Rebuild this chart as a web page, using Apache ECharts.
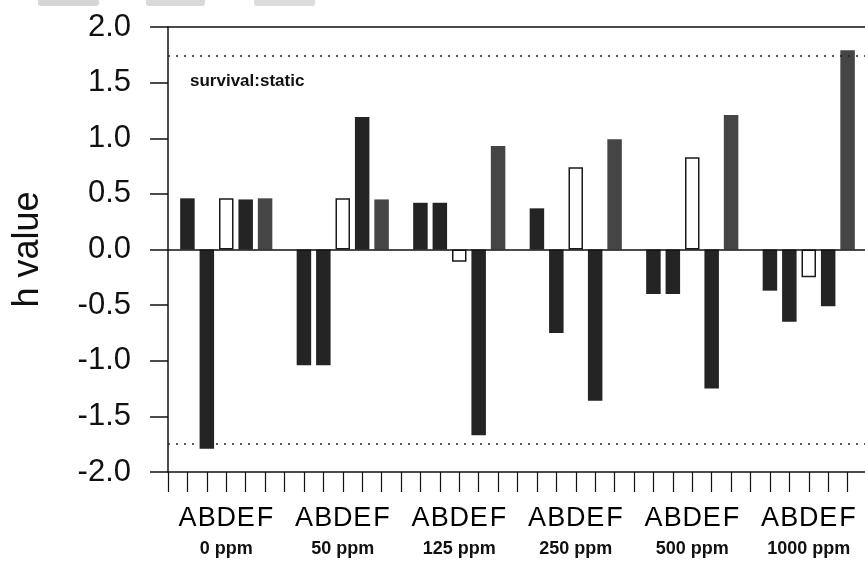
<!DOCTYPE html>
<html>
<head>
<meta charset="utf-8">
<script src="https://cdn.jsdelivr.net/npm/echarts@6/dist/echarts.min.js"></script>
<style>
html,body{margin:0;padding:0;background:#fff;}
#chart{width:865px;height:582px;}
</style>
</head>
<body>
<div id="chart"></div>
<script>
// ---- data ----
const groups = ['0 ppm', '50 ppm', '125 ppm', '250 ppm', '500 ppm', '1000 ppm'];
const letters = ['A', 'B', 'D', 'E', 'F'];
const hA = [0.46, -1.04, 0.42, 0.37, -0.40, -0.37];
const hB = [-1.79, -1.04, 0.42, -0.75, -0.40, -0.65];
const hD = [0.46, 0.46, -0.11, 0.74, 0.83, -0.25];
const hE = [0.45, 1.19, -1.67, -1.36, -1.25, -0.51];
const hF = [0.46, 0.45, 0.93, 0.99, 1.21, 1.79];
const critUpper = 1.74;
const critLower = -1.75;
const yTicks = [-2.0, 2.0, 0.5]; // min, max, interval
const panelLabel = 'survival:static';

// ---- build category slots: one empty slot between groups ----
const slotsPerGroup = letters.length + 1;
const categories = [''];
groups.forEach(() => { letters.forEach(l => categories.push(l)); categories.push(''); });
function place(values, letterIdx) {
  const arr = new Array(categories.length).fill(null);
  values.forEach((v, g) => { arr[1 + g * slotsPerGroup + letterIdx] = v; });
  return arr;
}

const FONT = 'Liberation Sans, Arial, sans-serif';
const chart = echarts.init(document.getElementById('chart'), null, {renderer: 'canvas'});

const dark = '#242424';
const barBase = {type: 'bar', barWidth: 14.5, barGap: '-100%', xAxisIndex: 0, yAxisIndex: 0};

const option = {
  animation: false,
  backgroundColor: '#ffffff',
  grid: {left: 168, top: 27, width: 699, height: 445, containLabel: false, outerBoundsMode: 'none'},
  xAxis: [
    {
      type: 'category', data: categories, boundaryGap: false, position: 'bottom',
      axisLine: {show: true, onZero: false, lineStyle: {color: '#111', width: 1.5}},
      axisTick: {show: true, inside: false, length: 20, interval: 0, lineStyle: {color: '#111', width: 1.2}},
      axisLabel: {show: true, interval: 0, margin: 33, fontFamily: FONT, fontSize: 27, color: '#000'},
      splitLine: {show: false}
    },
    {
      type: 'category', data: groups, boundaryGap: true, position: 'bottom', offset: 0,
      axisLine: {show: false, onZero: false}, axisTick: {show: false},
      axisLabel: {show: true, interval: 0, margin: 68, fontFamily: FONT, fontSize: 18, fontWeight: 'bold', color: '#111'},
      splitLine: {show: false}
    },
    {
      type: 'category', data: categories, position: 'top',
      axisLine: {show: true, onZero: false, lineStyle: {color: '#111', width: 1.5}},
      axisTick: {show: false}, axisLabel: {show: false}, splitLine: {show: false}
    }
  ],
  yAxis: {
    type: 'value', min: yTicks[0], max: yTicks[1], interval: yTicks[2],
    name: 'h value', nameLocation: 'middle', nameGap: 122, nameRotate: 90,
    nameTextStyle: {fontFamily: FONT, fontSize: 36, color: '#111'},
    axisLine: {show: true, lineStyle: {color: '#111', width: 1.5}},
    axisTick: {show: true, inside: false, length: 18, lineStyle: {color: '#111', width: 1.5}},
    axisLabel: {margin: 37, fontFamily: FONT, fontSize: 31, color: '#111', formatter: v => v.toFixed(1)},
    splitLine: {show: false}
  },
  series: [
    Object.assign({}, barBase, {
      name: 'A', data: place(hA, 0), itemStyle: {color: dark},
      markLine: {
        silent: true, symbol: 'none', label: {show: false},
        data: [
          {yAxis: critUpper, lineStyle: {type: [2, 6], color: '#222', width: 1.5}},
          {yAxis: critLower, lineStyle: {type: [2, 6], color: '#222', width: 1.5}},
          {yAxis: 0, lineStyle: {type: 'solid', color: '#111', width: 1.5}}
        ]
      }
    }),
    Object.assign({}, barBase, {name: 'B', data: place(hB, 1), itemStyle: {color: dark}}),
    Object.assign({}, barBase, {name: 'D', data: place(hD, 2), itemStyle: {color: '#ffffff', borderColor: '#1a1a1a', borderWidth: 1.5}}),
    Object.assign({}, barBase, {name: 'E', data: place(hE, 3), itemStyle: {color: dark}}),
    Object.assign({}, barBase, {name: 'F', data: place(hF, 4), itemStyle: {color: '#454545'}})
  ],
  graphic: [
    {type: 'text', left: 190, top: 73, style: {text: panelLabel, font: 'bold 17px ' + FONT, fill: '#111'}},
    {type: 'rect', shape: {x: 38, y: -4, width: 61, height: 10, r: 3}, style: {fill: '#d6d6d6'}},
    {type: 'rect', shape: {x: 146, y: -4, width: 59, height: 10, r: 3}, style: {fill: '#d9d9d9'}},
    {type: 'rect', shape: {x: 254, y: -4, width: 61, height: 10, r: 3}, style: {fill: '#dcdcdc'}}
  ]
};
chart.setOption(option);
</script>
</body>
</html>
